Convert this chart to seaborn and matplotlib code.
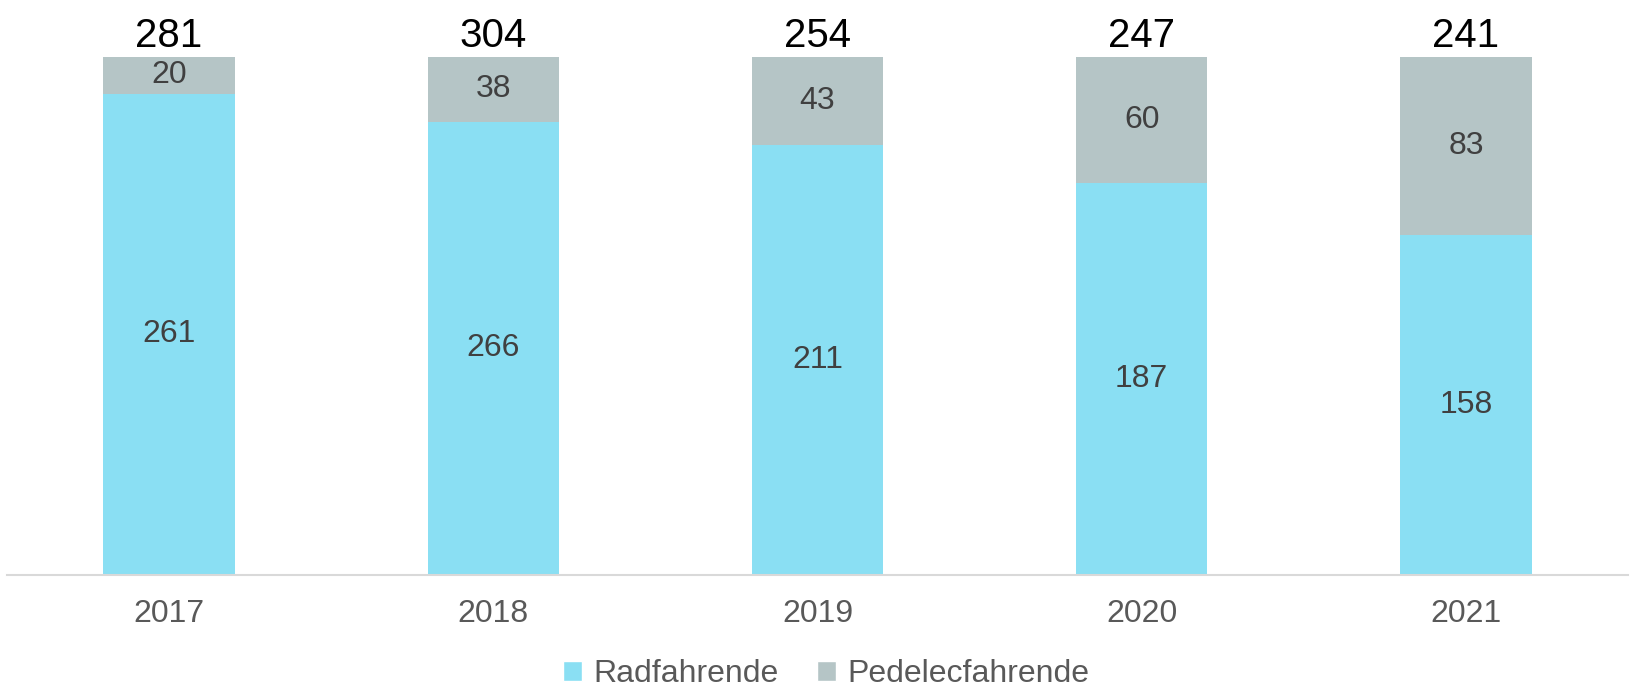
import numpy as np
import pandas as pd
import seaborn as sns
import matplotlib.pyplot as plt
from matplotlib.patches import Patch

years = ['2017', '2018', '2019', '2020', '2021']
radfahrende = [261, 266, 211, 187, 158]
pedelec = [20, 38, 43, 60, 83]
totals = [281, 304, 254, 247, 241]

c_rad = '#8ADFF3'
c_ped = '#B5C5C6'

sns.set_style('white')
plt.rcParams['font.family'] = ['Liberation Sans', 'DejaVu Sans']

df = pd.DataFrame({'Jahr': years, 'Rad': radfahrende, 'Ped': pedelec})
df['Summe'] = df['Rad'] + df['Ped']
df['share_rad'] = df['Rad'] / df['Summe']
df['share_all'] = 1.0

fig = plt.figure(figsize=(16.35, 6.86), dpi=100)
ax = fig.add_axes([7 / 1635, 1 - 575 / 686, 1621 / 1635, 518 / 686])

# full bar in grey, cyan share drawn on top -> 100% stacked
sns.barplot(data=df, x='Jahr', y='share_all', color=c_ped, width=0.405,
            saturation=1, linewidth=0, ax=ax)
sns.barplot(data=df, x='Jahr', y='share_rad', color=c_rad, width=0.405,
            saturation=1, linewidth=0, ax=ax)

ax.set_ylim(0, 1)
ax.set_xlim(-0.5, len(years) - 0.5)
for i, row in df.iterrows():
    ax.text(i, row['share_rad'] / 2, str(row['Rad']), ha='center', va='center',
            fontsize=23, color='#404040')
    ax.text(i, row['share_rad'] + (1 - row['share_rad']) / 2, str(row['Ped']),
            ha='center', va='center', fontsize=23, color='#404040')
    ax.text(i, 1.04, str(totals[i]), ha='center', va='center',
            fontsize=29, color='black', clip_on=False)

ax.set_xlabel('')
ax.set_ylabel('')
ax.set_yticks([])
ax.tick_params(axis='x', length=0, pad=17.5, labelsize=23, labelcolor='#595959')
for s in ['top', 'left', 'right']:
    ax.spines[s].set_visible(False)
ax.spines['bottom'].set_color('#D9D9D9')
ax.spines['bottom'].set_linewidth(1.5)

handles = [Patch(facecolor=c_rad, label='Radfahrende'),
           Patch(facecolor=c_ped, label='Pedelecfahrende')]
fig.legend(handles=handles, loc='center', bbox_to_anchor=(826 / 1635, 1 - 674 / 686),
           ncol=2, frameon=False, fontsize=23, handlelength=0.6, handleheight=0.6,
           handletextpad=0.35, columnspacing=1.2, labelcolor='#595959')

fig.savefig('out.png', dpi=100)
